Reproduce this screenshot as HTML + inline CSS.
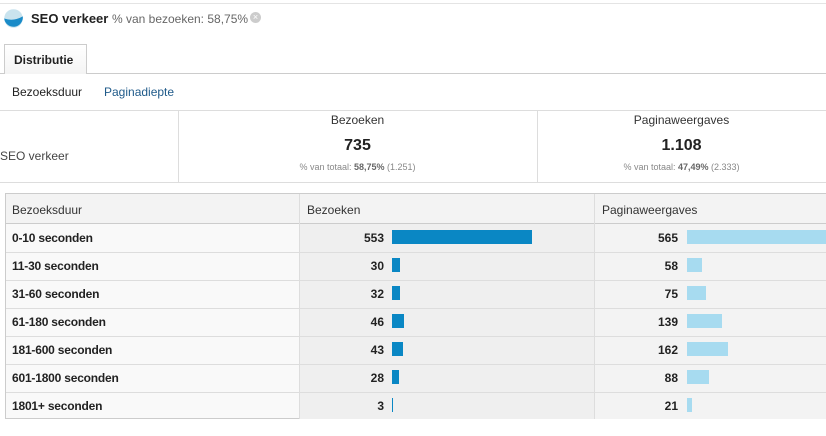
<!DOCTYPE html>
<html><head><meta charset="utf-8"><style>
*{margin:0;padding:0;box-sizing:border-box}
body{width:826px;height:436px;background:#fff;font-family:"Liberation Sans",Arial,sans-serif;position:relative;overflow:hidden;color:#222}
.a{position:absolute;white-space:nowrap}
.hl{position:absolute;height:1px;background:#ddd}
.vl{position:absolute;width:1px;background:#ddd}
.num{position:absolute;font-size:12px;font-weight:bold;text-align:right;width:60px}
.lab{position:absolute;font-size:12px;font-weight:bold;left:12px;letter-spacing:-0.2px}
</style></head><body>
<div class="hl" style="left:0;top:3px;width:826px;background:#e4e4e4"></div>
<svg class="a" style="left:4px;top:9px" width="19" height="19" viewBox="0 0 18 18"><circle cx="9" cy="9" r="8.8" fill="#c9e3ee"/><path d="M0.2 9 Q9 12 17.8 7 A8.8 8.8 0 0 1 0.2 9Z" fill="#1a8bc8"/></svg>
<div class="a" style="left:31px;top:11px;font-size:13px;font-weight:bold">SEO verkeer <span style="font-weight:normal;font-size:12px;color:#666">% van bezoeken: 58,75%</span></div>
<div class="a" style="left:250px;top:12px;width:11px;height:11px;border-radius:50%;background:#ccc;color:#fff;font-size:9px;line-height:11px;text-align:center">×</div>
<div class="hl" style="left:0;top:73px;width:826px;background:#ccc"></div>
<div class="a" style="left:4px;top:44px;width:83px;height:30px;border:1px solid #ccc;border-bottom:none;background:linear-gradient(#fff,#f4f4f4);font-size:12px;font-weight:bold;padding:8px 0 0 9px">Distributie</div>
<div class="a" style="left:12px;top:85px;font-size:12px">Bezoeksduur</div>
<div class="a" style="left:104px;top:85px;font-size:12px;color:#205b8a">Paginadiepte</div>
<div class="hl" style="left:0;top:110px;width:826px"></div>
<div class="hl" style="left:0;top:182px;width:826px"></div>
<div class="vl" style="left:178px;top:110px;height:72px"></div>
<div class="vl" style="left:537px;top:110px;height:72px"></div>
<div class="a" style="left:0;top:149px;font-size:12px;color:#444">SEO verkeer</div>
<div class="a" style="left:178px;width:359px;text-align:center;top:113px;font-size:12px;color:#333">Bezoeken</div>
<div class="a" style="left:178px;width:359px;text-align:center;top:137px;font-size:16px;font-weight:bold">735</div>
<div class="a" style="left:178px;width:359px;text-align:center;top:162px;font-size:9px;color:#888">% van totaal: <b style="color:#666">58,75%</b> (1.251)</div>
<div class="a" style="left:537px;width:289px;text-align:center;top:113px;font-size:12px;color:#333">Paginaweergaves</div>
<div class="a" style="left:537px;width:289px;text-align:center;top:137px;font-size:16px;font-weight:bold">1.108</div>
<div class="a" style="left:537px;width:289px;text-align:center;top:162px;font-size:9px;color:#888">% van totaal: <b style="color:#666">47,49%</b> (2.333)</div>

<div class="a" style="left:5px;top:193px;width:830px;height:226px;border:1px solid #ccc;background:#f9f9f9"></div>
<div class="a" style="left:299px;top:224px;width:295px;height:195px;background:#efefef"></div>
<div class="a" style="left:594px;top:224px;width:240px;height:195px;background:#f3f3f3"></div>
<div class="a" style="left:6px;top:194px;width:830px;height:30px;background:#f3f3f3;border-bottom:1px solid #ccc"></div>
<div class="vl" style="left:299px;top:194px;height:225px"></div>
<div class="vl" style="left:594px;top:194px;height:225px"></div>
<div class="a" style="left:12px;top:203px;font-size:12px;color:#333">Bezoeksduur</div>
<div class="a" style="left:307px;top:203px;font-size:12px;color:#333">Bezoeken</div>
<div class="a" style="left:602px;top:203px;font-size:12px;color:#333">Paginaweergaves</div>
<div id="rows"></div>
<script>
var d=[["0-10 seconden",553,565],["11-30 seconden",30,58],["31-60 seconden",32,75],["61-180 seconden",46,139],["181-600 seconden",43,162],["601-1800 seconden",28,88],["1801+ seconden",3,21]];
var h="";
d.forEach(function(r,i){var y=224+i*28;
if(i>0)h+='<div class="hl" style="left:6px;top:'+y+'px;width:830px"></div>';
h+='<div class="lab" style="top:'+(y+7)+'px">'+r[0]+'</div>';
h+='<div class="num" style="left:324px;top:'+(y+7)+'px">'+r[1]+'</div>';
h+='<div class="a" style="left:392px;top:'+(y+6)+'px;height:14px;width:'+Math.max(1,Math.round(r[1]*140/553))+'px;background:#0a87c4"></div>';
h+='<div class="num" style="left:618px;top:'+(y+7)+'px">'+r[2]+'</div>';
h+='<div class="a" style="left:687px;top:'+(y+6)+'px;height:14px;width:'+Math.round(r[2]*0.252)+'px;background:#a7dbf0"></div>';
});
document.getElementById("rows").innerHTML=h;
</script>
</body></html>
